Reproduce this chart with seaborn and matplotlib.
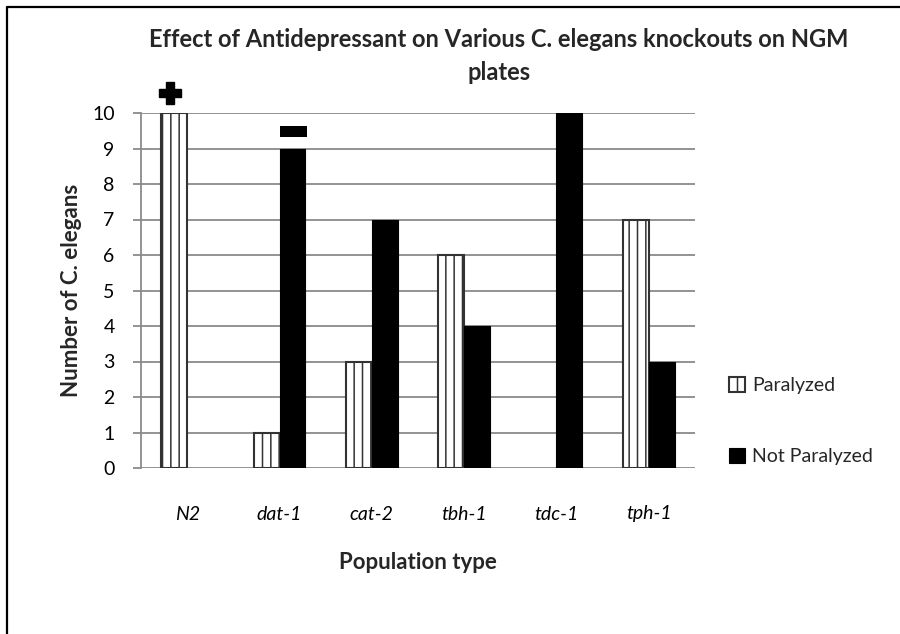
import matplotlib
matplotlib.use("Agg")
import matplotlib.pyplot as plt
import seaborn as sns
import pandas as pd
from matplotlib.lines import Line2D
from matplotlib.patches import Rectangle

# Worm counts per strain after antidepressant exposure on NGM plates
strains = ["N2", "dat-1", "cat-2", "tbh-1", "tdc-1", "tph-1"]
paralyzed = [10, 1, 3, 6, 0, 7]
not_paralyzed = [0, 9, 7, 4, 10, 3]
series_names = ["Paralyzed", "Not Paralyzed"]
y_ticks = list(range(0, 11))

df = pd.DataFrame({
    "Population type": strains * 2,
    "Condition": [series_names[0]] * len(strains) + [series_names[1]] * len(strains),
    "Count": paralyzed + not_paralyzed,
})

sns.set_theme(style="white")
plt.rcParams["font.family"] = ["Lato", "DejaVu Sans"]
plt.rcParams["hatch.linewidth"] = 1.1

W, H = 900, 634
fig = plt.figure(figsize=(W / 100, H / 100), dpi=100)
fig.patch.set_facecolor("white")
ax = fig.add_axes([141 / W, 1 - 468 / H, (695 - 141) / W, (468 - 113) / H])

sns.barplot(
    data=df, x="Population type", y="Count", hue="Condition",
    order=strains, hue_order=series_names,
    palette={"Paralyzed": "white", "Not Paralyzed": "black"},
    width=0.56, saturation=1, legend=False, ax=ax, zorder=3,
)

par_bars, notpar_bars = ax.containers[0], ax.containers[1]
for p in par_bars:
    p.set_hatch("||")
    p.set_edgecolor("#333333")
    p.set_linewidth(1.5)
for p in notpar_bars:
    p.set_edgecolor("black")
    p.set_linewidth(0.8)
for p in list(par_bars) + list(notpar_bars):
    if p.get_height() == 0:
        p.set_visible(False)

# axes styling
ax.set_xlim(-0.5, len(strains) - 0.5)
ax.set_ylim(0, 10)
ax.set_yticks(y_ticks)
ax.yaxis.grid(True, color="#8a8a8a", linewidth=1.3, zorder=0)
ax.xaxis.grid(False)
ax.set_axisbelow(True)
for s in ["top", "right", "bottom"]:
    ax.spines[s].set_visible(False)
ax.spines["left"].set_color("#8a8a8a")
ax.spines["left"].set_linewidth(1.3)
ax.tick_params(axis="y", which="major", left=True, length=6, width=1.3,
               color="#8a8a8a", pad=13, labelsize=14, labelcolor="black")
ax.tick_params(axis="x", length=0, pad=27, labelsize=14, labelcolor="black")
for lab in ax.get_xticklabels():
    lab.set_style("italic")

ax.set_xlabel("Population type", fontsize=16, fontweight="bold", labelpad=21)
ax.set_ylabel("Number of C. elegans", fontsize=16, fontweight="bold", labelpad=7)

# significance marks: "+" above N2 paralyzed, "-" above dat-1 not paralyzed
b = par_bars[strains.index("N2")]
ax.plot(b.get_x() + b.get_width() * 0.35, b.get_height() + 0.56, marker="P",
        markersize=16, color="black", clip_on=False, zorder=5)
b = notpar_bars[strains.index("dat-1")]
ax.add_patch(Rectangle((b.get_x(), b.get_height() + 0.32), b.get_width() * 1.07, 0.31,
                       facecolor="black", edgecolor="none", clip_on=False, zorder=5))

# legend
handles = [par_bars[0], notpar_bars[1]]
leg = fig.legend(handles, series_names, loc="upper left",
                 bbox_to_anchor=(729 / W, 1 - 377 / H), frameon=False,
                 fontsize=14, handlelength=0.8, handleheight=0.8,
                 handletextpad=0.4, labelspacing=2.75, borderpad=0, borderaxespad=0)

# title
fig.text(499 / W, 1 - 56 / H,
         "Effect of Antidepressant on Various C. elegans knockouts on NGM\nplates",
         ha="center", va="center", fontsize=17, fontweight="bold", linespacing=1.55)

# frame lines along the top and left edges
fig.add_artist(Line2D([7 / W, 1], [1 - 7 / H, 1 - 7 / H], color="black", linewidth=1.6))
fig.add_artist(Line2D([7 / W, 7 / W], [0, 1 - 7 / H], color="black", linewidth=1.6))

fig.savefig("out.png", dpi=100, facecolor="white")
